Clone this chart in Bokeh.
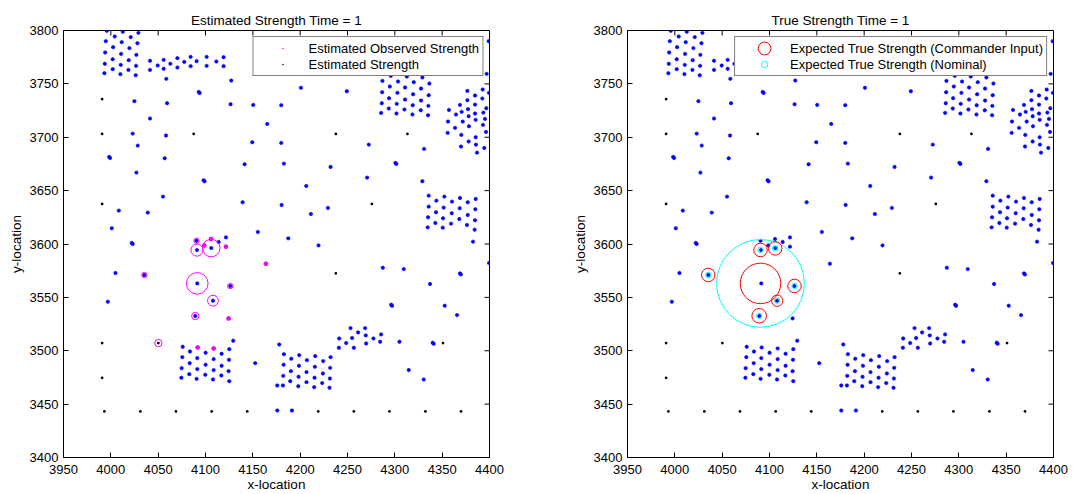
from bokeh.plotting import figure
from bokeh.models import Range1d, FixedTicker, Legend, LegendItem
from bokeh.layouts import row
from bokeh.embed import file_html
from bokeh.resources import INLINE

FONT = "Liberation Sans"
X_TICKS = [3950, 4000, 4050, 4100, 4150, 4200, 4250, 4300, 4350, 4400]
Y_TICKS = [3400, 3450, 3500, 3550, 3600, 3650, 3700, 3750, 3800]

# ---- unit positions (blue dots), grouped by formation ----
block_nw = [(3995.7,3799.7),(4012.6,3798.8),(4029.1,3797.8),(4004.1,3794.4),(4021.0,3793.8),
            (3994.7,3790.0),(4011.5,3789.1),(4028.1,3788.1),(4002.4,3784.4),(4019.6,3783.5),
            (3994.0,3779.4),(4010.8,3778.1),(4027.0,3777.2),(4002.0,3773.1),(4018.9,3772.2),
            (3993.6,3768.8),(4010.5,3767.8),(4026.7,3766.9),(4002.0,3763.8),(4018.6,3763.1),
            (3993.2,3760.0),(4010.1,3759.1),(4026.3,3758.1)]
column_n = [(4041.4,3771.6),(4055.8,3772.5),(4070.3,3774.1),(4084.3,3775.3),(4101.2,3775.3),
            (4119.1,3775.0),(4049.5,3767.2),(4062.9,3768.8),(4077.6,3770.6),(4090.6,3771.3),
            (4111.4,3770.9),(4041.4,3763.1),(4055.8,3764.1),(4070.3,3765.3),(4084.3,3766.6),
            (4101.2,3766.9),(4119.1,3766.6)]
block_ne = [(4295.7,3757.5),(4312.6,3756.9),(4329.1,3756.0),(4286.9,3752.8),(4303.4,3752.2),
            (4320.0,3751.6),(4336.5,3750.3),(4294.7,3747.5),(4310.8,3746.6),(4327.7,3745.6),
            (4286.6,3742.2),(4302.7,3741.6),(4319.3,3740.3),(4335.8,3739.4),(4293.9,3736.6),
            (4310.8,3735.3),(4327.7,3734.4),(4286.2,3731.9),(4302.0,3731.3),(4318.9,3730.0),
            (4335.4,3729.4),(4293.6,3726.9),(4310.1,3726.0),(4327.4,3725.3),(4285.5,3722.8),
            (4301.7,3722.2),(4318.6,3721.3),(4335.1,3720.6)]
block_e = [(4376.6,3743.4),(4392.8,3744.7),(4399.4,3741.6),(4384.7,3739.1),(4392.4,3736.3),
           (4376.6,3734.7),(4368.8,3730.3),(4384.7,3730.6),(4396.6,3727.2),(4357.2,3725.6),
           (4364.6,3721.3),(4370.6,3723.8),(4377.3,3726.3),(4384.7,3722.2),(4393.5,3723.1),
           (4378.0,3719.7),(4371.7,3714.7),(4385.4,3716.3),(4395.2,3717.2),(4356.2,3714.7),
           (4363.6,3708.8),(4378.3,3710.3),(4393.1,3711.6),(4355.8,3704.1),(4370.2,3702.2),
           (4385.4,3700.0),(4396.3,3705.0),(4378.0,3696.0),(4369.9,3691.3),(4385.7,3693.1),
           (4394.5,3690.0),(4386.8,3685.6)]
block_se = [(4335.8,3645.3),(4343.9,3640.6),(4352.3,3644.4),(4360.4,3639.7),(4368.8,3643.1),
            (4377.0,3639.1),(4385.4,3642.2),(4335.8,3635.0),(4343.5,3629.7),(4351.6,3634.1),
            (4360.1,3628.8),(4368.5,3633.5),(4377.0,3627.2),(4385.0,3632.5),(4335.1,3625.0),
            (4342.8,3619.7),(4350.9,3624.1),(4359.4,3619.1),(4368.1,3623.4),(4376.2,3617.8),
            (4384.7,3622.2),(4334.7,3615.6),(4350.6,3615.3),(4384.3,3613.4),(4382.6,3602.2)]
column_s = [(4253.2,3521.2),(4268.6,3521.2),(4261.2,3517.2),(4285.5,3515.3),(4241.2,3511.5),
            (4254.9,3511.9),(4269.3,3514.4),(4277.4,3511.5),(4248.6,3507.2),(4269.7,3506.8),
            (4284.5,3508.4),(4240.9,3502.8),(4256.7,3502.8)]
block_s = [(4182.8,3496.8),(4199.0,3495.9),(4215.9,3495.0),(4232.1,3494.0),(4190.6,3492.5),
           (4207.1,3491.2),(4224.3,3490.3),(4182.5,3486.9),(4198.7,3485.9),(4215.5,3485.0),
           (4231.7,3484.0),(4190.2,3480.9),(4206.7,3480.0),(4224.0,3478.7),(4182.1,3476.5),
           (4198.3,3475.6),(4215.2,3474.7),(4231.4,3474.0),(4189.5,3471.5),(4206.7,3470.6),
           (4223.3,3469.7),(4175.8,3467.5),(4181.8,3467.5),(4198.0,3466.8),(4214.8,3465.9),
           (4231.0,3465.3)]
block_sw = [(4075.9,3503.7),(4091.7,3503.1),(4108.6,3502.2),(4125.1,3501.5),(4083.6,3499.3),
            (4100.1,3498.1),(4117.0,3497.2),(4075.5,3494.0),(4091.3,3493.1),(4108.6,3492.2),
            (4124.8,3491.5),(4083.3,3488.4),(4100.1,3486.9),(4117.0,3485.9),(4074.8,3483.7),
            (4091.3,3482.8),(4108.6,3481.9),(4124.4,3480.9),(4082.9,3478.1),(4099.8,3477.5),
            (4116.7,3476.8),(4074.5,3474.7),(4090.6,3473.7),(4107.9,3473.1),(4125.1,3471.5)]
singles = [(4058.6,3754.7),(4127.2,3753.1),(4092.8,3742.5),(4093.8,3741.5),(4024.9,3733.8),
           (4059.4,3731.9),(4126.5,3730.9),(4150.4,3730.3),(4041.4,3717.5),(4165.2,3712.5),
           (4023.1,3703.4),(4058.3,3701.6),(4149.4,3695.3),(4028.4,3692.2),(3998.2,3681.6),
           (3999.2,3680.6),(4056.9,3680.3),(4141.3,3674.7),(4027.0,3666.9),(4098.0,3659.7),
           (4099.0,3658.7),(4055.1,3644.4),(4139.2,3639.1),(4008.4,3631.3),(4039.0,3629.4),
           (4001.0,3614.7),(4155.3,3611.3),(4022.1,3601.0),(4023.1,3600.0),(4121.6,3606.2),
           (4200.8,3746.3),(4249.3,3743.1),(4180.0,3730.0),(4180.0,3694.7),(4272.5,3693.1),
           (4330.9,3689.1),(4182.8,3675.3),(4232.1,3672.2),(4300.6,3676.0),(4301.6,3675.0),
           (4270.7,3662.2),(4329.1,3658.8),(4206.4,3654.4),(4180.4,3636.6),(4229.3,3633.8),
           (4211.3,3628.1),(4187.4,3605.3),(4219.4,3598.7),(4399.1,3790.0),(4397.0,3759.4),
           (4399.5,3582.2),(4287.3,3577.8),(4309.4,3576.5),(4368.8,3572.5),(4369.8,3571.5),
           (4337.2,3562.5),(4296.1,3543.1),(4297.1,3542.1),(4352.7,3542.2),(4365.7,3533.4),
           (4177.9,3505.9),(4340.0,3507.5),(4341.0,3506.5),(4304.9,3508.4),(4314.7,3481.9),
           (4330.5,3473.1),(4175.8,3444.0),(4191.3,3444.0),
           (4004.9,3572.8),(3996.8,3545.9),(4113.9,3601.9),(4090.5,3603.0),(4091.0,3594.3),
           (4106.1,3596.2),(4091.3,3563.1),(4126.2,3560.6),(4107.9,3546.9),(4089.2,3532.5),
           (4129.3,3509.4),(4152.5,3488.4),(4035.4,3570.9),(4098.7,3598.7),(4121.6,3597.5),
           (4163.8,3581.5),(4124.4,3530.3),(4105.8,3604.7)]

# ---- estimated strength points (black dots) ----
est_x = [3990.8, 3990.8, 4087.5, 3990.8, 4237.7, 4313.3, 4275.7, 4237.7, 4350.9, 3990.8, 3990.8,
         4050.2, 3993.2, 4031.2, 4068.8, 4106.5, 4144.1, 4219.1, 4256.7, 4294.3, 4332.3, 4369.9]
est_y = [3735.6, 3703.1, 3703.1, 3637.5, 3703.1, 3703.1, 3637.5, 3572.5, 3507.2, 3507.2, 3474.7,
         3507.2, 3443.1, 3443.1, 3443.1, 3443.1, 3443.1, 3443.1, 3443.1, 3443.1, 3443.1, 3443.1]

# ---- estimated observed strength (magenta) ----
obs_dot_x = [4098.7, 4121.6, 4163.8, 4124.4, 4105.8, 4091.7, 4108.6]
obs_dot_y = [3598.7, 3597.5, 3581.5, 3530.3, 3604.7, 3503.1, 3502.2]
obs_x = [4090.5, 4091.0, 4106.1, 4091.3, 4126.2, 4107.9, 4089.2, 4035.4, 4050.2]
obs_y = [3603.0, 3594.3, 3596.2, 3563.1, 3560.6, 3546.9, 3532.5, 3570.9, 3507.2]
obs_strength = [2.0, 4.5, 6.5, 8.0, 2.0, 4.0, 2.7, 2.0, 2.7]

# ---- expected true strength ----
cmd_x = [4090.5, 4106.0, 4035.3, 4126.4, 4108.1, 4089.1, 4090.5]
cmd_y = [3594.4, 3595.9, 3571.0, 3560.7, 3546.9, 3532.8, 3563.1]
cmd_strength = [5.0, 5.0, 5.0, 5.0, 4.2, 5.4, 15.0]
nom_x = [4090.5, 4106.0, 4035.3, 4126.4, 4108.1, 4089.1, 4090.5]
nom_y = [3594.4, 3595.9, 3571.0, 3560.7, 3546.9, 3532.8, 3563.1]
nom_strength = [2.0, 2.0, 2.0, 2.0, 2.0, 2.0, 32.5]

PX_PER_STRENGTH = 2.7
X_MIN, X_MAX = X_TICKS[0], X_TICKS[-1]
Y_MIN, Y_MAX = Y_TICKS[0], Y_TICKS[-1]
FRAME_W, FRAME_H = 426, 427
TICK_PX = 5

units = block_nw + column_n + block_ne + block_e + block_se + column_s + block_s + block_sw + singles
unit_x = [p[0] for p in units]
unit_y = [p[1] for p in units]


def make_fig(title, width, left, right):
    p = figure(width=width, height=494, title=title,
               x_range=Range1d(X_MIN, X_MAX), y_range=Range1d(Y_MIN, Y_MAX),
               output_backend="svg", toolbar_location=None,
               min_border_left=left, min_border_right=right,
               min_border_top=30, min_border_bottom=37)
    p.grid.visible = False
    p.outline_line_color = "black"
    p.outline_line_width = 1
    p.background_fill_color = "white"
    p.border_fill_color = "white"
    p.title.align = "center"
    p.title.vertical_align = "middle"
    p.title.text_font = FONT
    p.title.text_font_style = "normal"
    p.title.text_font_size = "13.5px"
    p.title.text_color = "black"
    p.title.standoff = 4
    p.xaxis.ticker = FixedTicker(ticks=X_TICKS)
    p.yaxis.ticker = FixedTicker(ticks=Y_TICKS)
    p.xaxis.axis_label = "x-location"
    p.yaxis.axis_label = "y-location"
    for ax in (p.xaxis[0], p.yaxis[0]):
        ax.major_tick_in = TICK_PX
        ax.major_tick_out = 0
        ax.minor_tick_line_color = None
        ax.axis_line_color = "black"
        ax.major_tick_line_color = "black"
        ax.major_label_text_font = FONT
        ax.major_label_text_font_size = "13px"
        ax.major_label_text_color = "black"
        ax.axis_label_text_font = FONT
        ax.axis_label_text_font_style = "normal"
        ax.axis_label_text_font_size = "13.5px"
        ax.axis_label_text_color = "black"
    p.xaxis.major_label_standoff = 7
    p.xaxis.axis_label_standoff = 0
    p.yaxis.major_label_standoff = 5
    p.yaxis.axis_label_standoff = 3
    # mirrored inner ticks on the top and right edges of the box
    dx = TICK_PX * (X_MAX - X_MIN) / FRAME_W
    dy = TICK_PX * (Y_MAX - Y_MIN) / FRAME_H
    p.segment(x0=X_TICKS, y0=[Y_MAX] * len(X_TICKS), x1=X_TICKS, y1=[Y_MAX - dy] * len(X_TICKS),
              line_color="black", line_width=1)
    p.segment(x0=[X_MAX] * len(Y_TICKS), y0=Y_TICKS, x1=[X_MAX - dx] * len(Y_TICKS), y1=Y_TICKS,
              line_color="black", line_width=1)
    return p


def add_units(p):
    p.scatter(unit_x, unit_y, marker="circle", size=3.4, fill_color="#0000FF",
              line_color="#0000FF", line_width=0.6)
    return p.scatter(est_x, est_y, marker="dot", size=11, fill_color="black",
                     line_color="black")


def make_legend(items):
    return Legend(items=items, location="top_right", margin=6, padding=3, spacing=0,
                  glyph_width=52, glyph_height=16, label_height=16, label_standoff=0,
                  label_text_font=FONT, label_text_font_size="13px", label_text_color="black",
                  border_line_color="black", border_line_width=1.5,
                  background_fill_color="white", background_fill_alpha=1.0)


# ---- left: estimated ----
p1 = make_fig("Estimated Strength Time = 1", 564, 63, 75)
r_est = add_units(p1)
r_obs = p1.scatter(obs_dot_x, obs_dot_y, marker="dot", size=18, fill_color="#FF00FF",
                   line_color="#FF00FF")
p1.scatter(obs_x, obs_y, marker="circle", size=[s * PX_PER_STRENGTH for s in obs_strength],
           fill_color=None, line_color="#FF00FF", line_width=1)
p1.add_layout(make_legend([LegendItem(label="Estimated Observed Strength", renderers=[r_obs]),
                           LegendItem(label="Estimated Strength", renderers=[r_est])]))

# ---- right: true ----
p2 = make_fig("True Strength Time = 1", 510, 63, 21)
add_units(p2)
r_nom = p2.scatter(nom_x, nom_y, marker="circle", size=[s * PX_PER_STRENGTH for s in nom_strength],
                   fill_color=None, line_color="#00FFFF", line_width=1)
cmd_d = [s * PX_PER_STRENGTH for s in cmd_strength]
r_cmd = p2.ellipse(cmd_x, cmd_y, width=cmd_d, height=cmd_d, width_units="screen",
                   height_units="screen", fill_color=None, line_color="#FF0000", line_width=1)
p2.add_layout(make_legend([LegendItem(label="Expected True Strength (Commander Input)", renderers=[r_cmd]),
                           LegendItem(label="Expected True Strength (Nominal)", renderers=[r_nom])]))

layout = row(p1, p2)
open("out.html", "w").write(file_html(layout, INLINE))
